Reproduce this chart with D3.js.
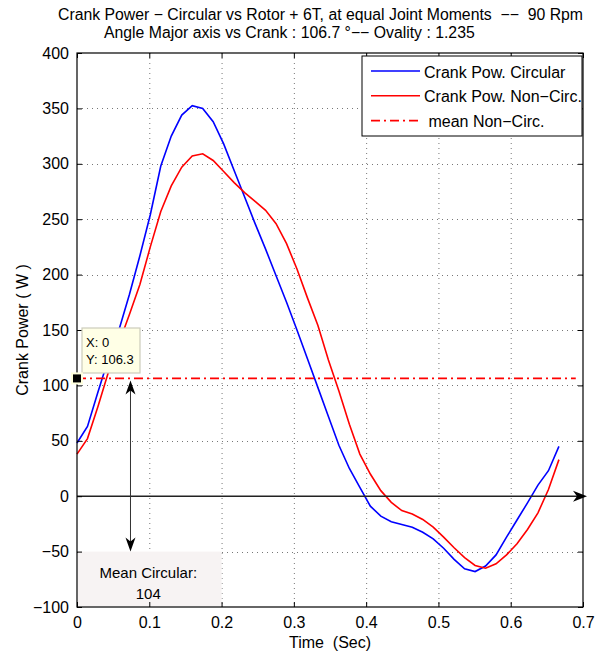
<!DOCTYPE html>
<html>
<head>
<meta charset="utf-8">
<script src="https://cdn.jsdelivr.net/npm/d3@7"></script>
<style>
  body { margin: 0; background: #fff; }
  text { font-family: "Liberation Sans", Arial, Helvetica, sans-serif; fill: #000; }
</style>
</head>
<body>
<svg id="chart" width="616" height="657"></svg>
<script>
// time of one crank revolution at 90 rpm (sec)
var timeSec = [0, 0.0145, 0.0290, 0.0435, 0.0580, 0.0725, 0.0870, 0.1014, 0.1159, 0.1304,
  0.1449, 0.1594, 0.1739, 0.1884, 0.2029, 0.2174, 0.2319, 0.2464, 0.2609, 0.2754,
  0.2899, 0.3043, 0.3188, 0.3333, 0.3478, 0.3623, 0.3768, 0.3913, 0.4058, 0.4203,
  0.4348, 0.4493, 0.4638, 0.4783, 0.4928, 0.5072, 0.5217, 0.5362, 0.5507, 0.5652,
  0.5797, 0.5942, 0.6087, 0.6232, 0.6377, 0.6522, 0.6667]

// crank power, circular chainring (W)
var powerCircular = [48, 63, 94, 124, 150, 182, 217, 254, 298, 325,
  344, 352.5, 350, 338, 318, 294, 270, 246, 223, 199,
  175, 150, 124, 98, 72, 46, 25, 8, -9, -18,
  -23, -25.5, -28, -32.5, -38.5, -47, -57, -65.5, -68, -63,
  -53, -37, -21.5, -6, 10, 23, 45]

// crank power, non-circular chainring (W)
var powerNonCirc = [38, 52, 81, 112, 138, 164, 191, 225, 257, 280,
  297, 307, 309, 303, 293, 283, 274, 266, 258, 246,
  228, 205, 179, 154, 123, 95, 65, 38, 20, 5,
  -5.5, -13, -16, -21, -28, -37, -46.5, -55.5, -62.5, -65,
  -61, -53, -43, -30, -15, 6, 33]

var meanNonCirc = 106.3
var meanCircular = 104
var meanLineEnd = 0.69

var xTicks = [0, 0.1, 0.2, 0.3, 0.4, 0.5, 0.6, 0.7]
var yTicks = [-100, -50, 0, 50, 100, 150, 200, 250, 300, 350, 400]

var legendLabels = ['Crank Pow. Circular', 'Crank Pow. Non\u2212Circ.', ' mean Non\u2212Circ.']

var svg = d3.select('#chart')

var x = d3.scaleLinear().domain([0, 0.7]).range([77, 583])
var y = d3.scaleLinear().domain([-100, 400]).range([607, 53])

// 标题
var title = svg.append('g').attr('font-size', 15.8)
title.append('text').attr('x', 58).attr('y', 20)
  .text('Crank Power \u2212 Circular vs Rotor + 6T, at equal Joint Moments  \u2212\u2212  90 Rpm')
  .style('white-space', 'pre')
title.append('text').attr('x', 104).attr('y', 38)
  .text('Angle Major axis vs Crank : 106.7 \u00b0\u2212\u2212 Ovality : 1.235')

// 网格
var grid = svg.append('g').attr('stroke', '#777').attr('stroke-width', 1).attr('stroke-dasharray', '1,4')
grid.selectAll('line.gx').data(xTicks.slice(1, -1)).enter().append('line')
  .attr('x1', (d) => x(d) + 0.5).attr('x2', (d) => x(d) + 0.5)
  .attr('y1', y(400)).attr('y2', y(-100))
grid.selectAll('line.gy').data(yTicks.slice(1, -1)).enter().append('line')
  .attr('y1', (d) => Math.round(y(d)) + 0.5).attr('y2', (d) => Math.round(y(d)) + 0.5)
  .attr('x1', x(0)).attr('x2', x(0.7))

// Mean Circular 文本框
svg.append('rect')
  .attr('x', x(0) + 1).attr('y', y(-50))
  .attr('width', x(0.2) - x(0) - 1).attr('height', y(-100) - y(-50) - 1)
  .attr('fill', '#f7f3f3')
var mc = svg.append('g').attr('font-size', 15).attr('text-anchor', 'middle')
mc.append('text').attr('x', x(0.1) - 1).attr('y', y(-69) + 5).text('Mean Circular:')
mc.append('text').attr('x', x(0.1) - 1).attr('y', y(-88) + 5).text(meanCircular)

// 曲线
var line = d3.line().x((d) => x(d[0])).y((d) => y(d[1]))
svg.append('path')
  .datum(timeSec.map((t, i) => [t, powerCircular[i]]))
  .attr('d', line).attr('fill', 'none').attr('stroke', '#0000ff').attr('stroke-width', 1.6)
svg.append('path')
  .datum(timeSec.map((t, i) => [t, powerNonCirc[i]]))
  .attr('d', line).attr('fill', 'none').attr('stroke', '#ff0000').attr('stroke-width', 1.6)

// 平均线
svg.append('line')
  .attr('x1', x(0)).attr('x2', x(meanLineEnd))
  .attr('y1', y(meanNonCirc)).attr('y2', y(meanNonCirc))
  .attr('stroke', '#ff0000').attr('stroke-width', 1.6).attr('stroke-dasharray', '9,4,2,4')

// 零线 + 箭头
var y0 = y(0)
svg.append('line').attr('x1', x(0)).attr('x2', 580).attr('y1', y0).attr('y2', y0)
  .attr('stroke', '#222').attr('stroke-width', 1.5)
svg.append('path')
  .attr('d', 'M587,' + y0 + 'L573,' + (y0 - 5.5) + 'L577,' + y0 + 'L573,' + (y0 + 5.5) + 'Z')
  .attr('fill', '#000')

// 双向箭头
var ax = x(0.074)
var yTop = y(meanNonCirc) + 2
var yBot = y(-50)
svg.append('line').attr('x1', ax).attr('x2', ax).attr('y1', yTop + 6).attr('y2', yBot - 6)
  .attr('stroke', '#333').attr('stroke-width', 1)
svg.append('path')
  .attr('d', 'M' + ax + ',' + yTop + 'L' + (ax - 5) + ',' + (yTop + 14) + 'L' + ax + ',' + (yTop + 10) + 'L' + (ax + 5) + ',' + (yTop + 14) + 'Z')
  .attr('fill', '#000')
svg.append('path')
  .attr('d', 'M' + ax + ',' + yBot + 'L' + (ax - 5) + ',' + (yBot - 14) + 'L' + ax + ',' + (yBot - 10) + 'L' + (ax + 5) + ',' + (yBot - 14) + 'Z')
  .attr('fill', '#000')

// 坐标框和刻度
var frame = svg.append('g')
frame.append('rect').attr('x', x(0)).attr('y', y(400))
  .attr('width', x(0.7) - x(0)).attr('height', y(-100) - y(400))
  .attr('fill', 'none').attr('stroke', '#000').attr('stroke-width', 1.2)

var axisLeft = d3.axisLeft(y).tickValues(yTicks).tickSize(-5).tickPadding(8).tickFormat(d3.format('d'))
var axisRight = d3.axisRight(y).tickValues(yTicks).tickSize(-5).tickFormat('')
var axisBottom = d3.axisBottom(x).tickValues(xTicks).tickSize(-5).tickPadding(10).tickFormat((d) => d === 0 ? '0' : d3.format('.1f')(d))
var axisTop = d3.axisTop(x).tickValues(xTicks).tickSize(-5).tickFormat('')

function styleAxis(g) {
  g.select('.domain').remove()
  g.selectAll('.tick line').attr('stroke', '#000')
  g.selectAll('.tick text').attr('font-size', 16).attr('fill', '#000')
    .attr('font-family', '"Liberation Sans", Arial, Helvetica, sans-serif')
}
frame.append('g').attr('transform', 'translate(' + x(0) + ',0)').call(axisLeft).call(styleAxis)
frame.append('g').attr('transform', 'translate(' + x(0.7) + ',0)').call(axisRight).call(styleAxis)
frame.append('g').attr('transform', 'translate(0,' + y(-100) + ')').call(axisBottom).call(styleAxis)
frame.append('g').attr('transform', 'translate(0,' + y(400) + ')').call(axisTop).call(styleAxis)

// 轴标签
svg.append('text').attr('font-size', 16).attr('text-anchor', 'middle')
  .attr('transform', 'translate(28,' + ((y(400) + y(-100)) / 2) + ') rotate(-90)')
  .text('Crank Power ( W )')
svg.append('text').attr('font-size', 16).attr('text-anchor', 'middle')
  .attr('x', (x(0) + x(0.7)) / 2).attr('y', 648)
  .style('white-space', 'pre')
  .text('Time  (Sec)')

// 图例
var legend = svg.append('g')
legend.append('rect').attr('x', 362).attr('y', 56).attr('width', 220).attr('height', 80)
  .attr('fill', '#fff').attr('stroke', '#000').attr('stroke-width', 1)
var legendStyles = [
  { color: '#0000ff', dash: null },
  { color: '#ff0000', dash: null },
  { color: '#ff0000', dash: '9,4,2,4' }
]
legendLabels.forEach(function (label, i) {
  var ly = 71 + i * 24.8
  legend.append('line').attr('x1', 371).attr('x2', 420).attr('y1', ly).attr('y2', ly)
    .attr('stroke', legendStyles[i].color).attr('stroke-width', 1.6)
    .attr('stroke-dasharray', legendStyles[i].dash)
  legend.append('text').attr('x', 424).attr('y', ly + 6.5).attr('font-size', 16)
    .style('white-space', 'pre').text(label)
})

// 数据提示
var tipX = x(0)
var tipY = y(meanNonCirc)
var tip = svg.append('g')
tip.append('rect').attr('x', 82).attr('y', 328).attr('width', 58).attr('height', 45)
  .attr('fill', '#ffffe6').attr('stroke', '#ccccbb').attr('stroke-width', 1.2)
tip.append('text').attr('x', 86).attr('y', 347).attr('font-size', 13).text('X: 0')
tip.append('text').attr('x', 86).attr('y', 364).attr('font-size', 13).text('Y: ' + meanNonCirc)
tip.append('rect').attr('x', tipX - 5).attr('y', tipY - 5).attr('width', 10).attr('height', 10)
  .attr('fill', '#000').attr('stroke', '#ffffdd').attr('stroke-width', 2)
</script>
</body>
</html>
